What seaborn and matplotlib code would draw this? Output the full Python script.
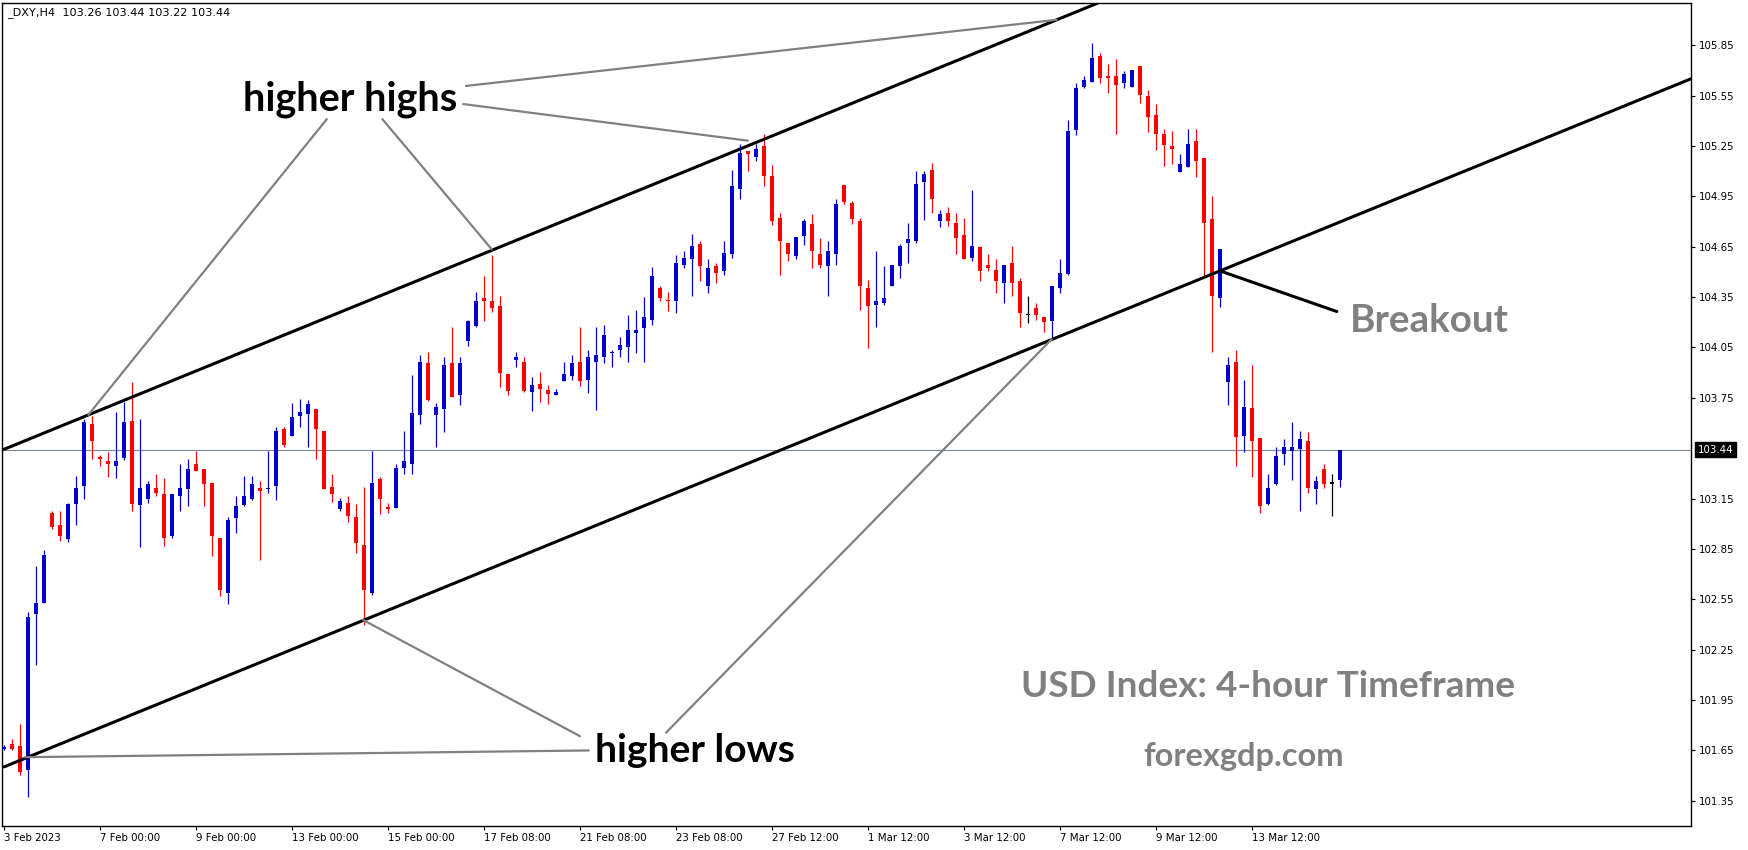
import numpy as np
import pandas as pd
import matplotlib
matplotlib.use("Agg")
import matplotlib.pyplot as plt
import matplotlib.transforms as mtransforms
import seaborn as sns

# ---------------- data (4-hour DXY candles) ----------------
opens = [101.660, 101.685, 101.675, 101.534, 102.464, 102.530, 103.063, 102.993, 102.908, 103.120,
         103.222, 103.594, 103.399, 103.375, 103.341, 103.391, 103.614, 103.114, 103.146, 103.214,
         103.176, 102.924, 103.162, 103.204, 103.355, 103.327, 103.242, 102.914, 102.590, 103.031,
         103.111, 103.150, 103.214, 103.204, 103.222, 103.564, 103.520, 103.643, 103.653, 103.683,
         103.554, 103.216, 103.085, 103.124, 103.037, 102.874, 102.590, 103.266, 103.097, 103.093,
         103.331, 103.355, 103.647, 103.959, 103.647, 103.681, 103.959, 103.765, 104.091, 104.180,
         104.345, 104.329, 104.299, 103.892, 103.975, 103.965, 103.782, 103.832, 103.797, 103.765,
         103.852, 103.882, 103.965, 103.858, 103.961, 103.991, 104.015, 104.035, 104.051, 104.136,
         104.164, 104.214, 104.405, 104.333, 104.329, 104.542, 104.574, 104.667, 104.415, 104.538,
         104.508, 104.604, 104.991, 105.218, 105.184, 105.248, 105.069, 104.820, 104.675, 104.594,
         104.711, 104.786, 104.607, 104.534, 104.605, 105.015, 104.908, 104.806, 104.405, 104.301,
         104.313, 104.419, 104.534, 104.671, 104.683, 105.035, 105.105, 104.802, 104.852, 104.792,
         104.717, 104.582, 104.647, 104.544, 104.514, 104.432, 104.556, 104.448, 104.244, 104.285,
         104.234, 104.210, 104.403, 104.488, 105.347, 105.602, 105.631, 105.784, 105.665, 105.665,
         105.627, 105.602, 105.725, 105.546, 105.437, 105.319, 105.248, 105.095, 105.124, 105.278,
         105.178, 104.816, 104.343, 103.842, 103.961, 103.520, 103.687, 103.508, 103.120, 103.238,
         103.415, 103.433, 103.442, 103.494, 103.206, 103.325, 103.242, 103.260]
highs = [101.680, 101.720, 101.804, 102.474, 102.749, 102.844, 103.073, 103.077, 103.124, 103.286,
         103.623, 103.643, 103.407, 103.429, 103.667, 103.723, 103.846, 103.623, 103.256, 103.295,
         103.274, 103.176, 103.355, 103.385, 103.435, 103.327, 103.242, 102.914, 103.037, 103.166,
         103.286, 103.286, 103.256, 103.435, 103.578, 103.574, 103.717, 103.743, 103.737, 103.683,
         103.554, 103.295, 103.156, 103.166, 103.117, 103.216, 103.435, 103.276, 103.126, 103.355,
         103.550, 103.888, 104.007, 104.021, 103.717, 103.991, 104.170, 103.991, 104.214, 104.379,
         104.478, 104.598, 104.359, 103.892, 104.021, 103.995, 103.876, 103.906, 103.828, 103.802,
         103.962, 104.007, 104.174, 104.037, 104.174, 104.186, 104.037, 104.111, 104.246, 104.276,
         104.349, 104.528, 104.419, 104.379, 104.602, 104.627, 104.727, 104.687, 104.578, 104.554,
         104.687, 105.105, 105.264, 105.218, 105.264, 105.319, 105.134, 104.852, 104.675, 104.705,
         104.816, 104.846, 104.703, 104.687, 104.936, 105.015, 104.920, 104.822, 104.452, 104.627,
         104.538, 104.542, 104.667, 104.794, 105.101, 105.099, 105.148, 104.866, 104.886, 104.850,
         104.820, 104.985, 104.657, 104.607, 104.578, 104.544, 104.657, 104.464, 104.359, 104.315,
         104.234, 104.419, 104.578, 105.407, 105.627, 105.665, 105.866, 105.806, 105.737, 105.767,
         105.695, 105.705, 105.725, 105.586, 105.498, 105.353, 105.337, 105.200, 105.353, 105.349,
         105.178, 104.951, 104.637, 103.991, 104.037, 103.858, 103.948, 103.508, 103.297, 103.458,
         103.506, 103.608, 103.554, 103.548, 103.286, 103.357, 103.296, 103.440]
lows = [101.650, 101.650, 101.502, 101.373, 102.156, 102.530, 102.971, 102.894, 102.892, 102.991,
        103.150, 103.385, 103.343, 103.281, 103.270, 103.381, 103.073, 102.864, 103.124, 103.162,
        102.870, 102.912, 103.073, 103.105, 103.311, 103.103, 102.810, 102.572, 102.524, 102.942,
        103.103, 103.144, 102.783, 103.180, 103.144, 103.454, 103.520, 103.574, 103.458, 103.383,
        103.206, 103.132, 103.073, 103.013, 102.824, 102.395, 102.574, 103.057, 103.063, 103.093,
        103.295, 103.299, 103.594, 103.733, 103.455, 103.544, 103.753, 103.705, 104.061, 104.170,
        104.210, 104.264, 103.812, 103.767, 103.932, 103.782, 103.673, 103.723, 103.711, 103.765,
        103.852, 103.858, 103.822, 103.780, 103.679, 103.955, 103.932, 103.991, 103.961, 104.015,
        103.961, 104.184, 104.325, 104.270, 104.254, 104.524, 104.355, 104.448, 104.373, 104.432,
        104.482, 104.580, 104.932, 105.101, 105.158, 105.009, 104.782, 104.480, 104.564, 104.576,
        104.663, 104.522, 104.524, 104.355, 104.540, 104.904, 104.784, 104.271, 104.047, 104.170,
        104.303, 104.415, 104.464, 104.552, 104.671, 104.812, 104.850, 104.770, 104.772, 104.606,
        104.574, 104.564, 104.444, 104.508, 104.373, 104.315, 104.355, 104.170, 104.194, 104.214,
        104.140, 104.101, 104.375, 104.480, 105.317, 105.598, 105.631, 105.625, 105.566, 105.321,
        105.598, 105.602, 105.506, 105.333, 105.228, 105.130, 105.140, 105.095, 105.124, 105.065,
        104.468, 104.021, 104.293, 103.709, 103.341, 103.429, 103.280, 103.061, 103.113, 103.232,
        103.351, 103.262, 103.073, 103.180, 103.115, 103.210, 103.043, 103.220]
closes = [101.670, 101.655, 101.522, 102.445, 102.526, 102.814, 102.983, 102.924, 103.118, 103.214,
          103.608, 103.490, 103.383, 103.353, 103.375, 103.608, 103.120, 103.214, 103.238, 103.180,
          102.912, 103.176, 103.214, 103.327, 103.311, 103.234, 102.924, 102.602, 103.021, 103.105,
          103.166, 103.238, 103.194, 103.214, 103.554, 103.470, 103.637, 103.667, 103.713, 103.564,
          103.206, 103.176, 103.136, 103.045, 102.882, 102.604, 103.242, 103.146, 103.087, 103.329,
          103.375, 103.657, 103.965, 103.739, 103.697, 103.947, 103.753, 103.959, 104.206, 104.329,
          104.329, 104.283, 103.900, 103.792, 103.991, 103.792, 103.828, 103.800, 103.771, 103.787,
          103.892, 103.959, 103.852, 103.991, 104.007, 104.126, 104.025, 104.067, 104.156, 104.156,
          104.234, 104.478, 104.343, 104.325, 104.554, 104.584, 104.657, 104.534, 104.524, 104.492,
          104.613, 105.009, 105.208, 105.200, 105.234, 105.069, 104.802, 104.683, 104.605, 104.705,
          104.806, 104.623, 104.540, 104.625, 104.906, 104.916, 104.816, 104.415, 104.295, 104.329,
          104.345, 104.542, 104.657, 104.699, 105.025, 105.085, 104.934, 104.846, 104.802, 104.701,
          104.574, 104.657, 104.504, 104.522, 104.448, 104.544, 104.432, 104.254, 104.244, 104.244,
          104.200, 104.419, 104.494, 105.337, 105.598, 105.645, 105.776, 105.655, 105.655, 105.612,
          105.677, 105.705, 105.556, 105.423, 105.321, 105.254, 105.230, 105.144, 105.264, 105.160,
          104.790, 104.355, 104.637, 103.948, 103.514, 103.697, 103.490, 103.103, 103.214, 103.405,
          103.458, 103.458, 103.506, 103.212, 103.254, 103.236, 103.242, 103.440]

x_tick_bars = [0, 12, 24, 36, 48, 60, 72, 84, 96, 108, 120, 132, 144, 156]
x_tick_labels = ["3 Feb 2023", "7 Feb 00:00", "9 Feb 00:00", "13 Feb 00:00", "15 Feb 00:00",
                 "17 Feb 08:00", "21 Feb 08:00", "23 Feb 08:00", "27 Feb 12:00", "1 Mar 12:00",
                 "3 Mar 12:00", "7 Mar 12:00", "9 Mar 12:00", "13 Mar 12:00"]
y_tick_values = [101.35, 101.65, 101.95, 102.25, 102.55, 102.85, 103.15,
                 103.75, 104.05, 104.35, 104.65, 104.95, 105.25, 105.55, 105.85]
y_tick_labels = ["101.35", "101.65", "101.95", "102.25", "102.55", "102.85", "103.15",
                 "103.75", "104.05", "104.35", "104.65", "104.95", "105.25", "105.55", "105.85"]
last_price = 103.44
header_text = "_DXY,H4  103.26 103.44 103.22 103.44"

# channel lines (bar index, price)
upper_channel_bars = [0, 211]
upper_channel_prices = [103.443, 107.546]
lower_channel_bars = [0, 211]
lower_channel_prices = [101.551, 105.653]
breakout_bars = [152.0, 166.6]
breakout_prices = [104.506, 104.264]

# annotation pointer lines (bar index, price)
pointer_lines = {
    "hh1": ([57.75, 131.6], [105.608, 106.002]),
    "hh2": ([57.4, 92.96], [105.500, 105.282]),
    "hh3": ([40.35, 10.54], [105.410, 103.648]),
    "hh4": ([47.3, 60.96], [105.410, 104.635]),
    "hl1": ([73.1, 2.625], [101.649, 101.609]),
    "hl2": ([72.0, 44.9], [101.734, 102.426]),
    "hl3": ([82.75, 130.96], [101.755, 104.099]),
}

# ---------------- figure ----------------
W, H = 1749, 850
sns.set_theme(style="white")
plt.rcParams["font.family"] = ["DejaVu Sans"]

fig = plt.figure(figsize=(W / 100, H / 100), dpi=100)
fig.patch.set_facecolor("white")
ax = fig.add_axes([2 / W, 1 - 826 / H, (1691 - 2) / W, (826 - 3) / H])
ax.set_facecolor("white")

df = pd.DataFrame({"o": opens, "h": highs, "l": lows, "c": closes})
df["bar"] = np.arange(len(df))
BLUE, RED = "#0000CD", "#FF0000"
colors = [BLUE if c > o else (RED if c < o else "black") for o, c in zip(df.o, df.c)]

# horizontal last-price line
ax.axhline(last_price, color="#778899", lw=0.8, zorder=1)

# wicks
ax.vlines(df.bar, df.l, df.h, colors=colors, lw=0.9, zorder=3)
# bodies
body_lo = np.minimum(df.o, df.c)
body_h = np.maximum(np.abs(df.c - df.o), 0.007)
ax.bar(df.bar, body_h, bottom=body_lo - np.where(np.abs(df.c - df.o) < 0.007, 0.0035, 0),
       width=0.62, color=colors, linewidth=0, zorder=4)

# channel lines
for bx, py in [(upper_channel_bars, upper_channel_prices),
               (lower_channel_bars, lower_channel_prices),
               (breakout_bars, breakout_prices)]:
    sns.lineplot(x=bx, y=py, ax=ax, color="black", linewidth=2.2, zorder=5, sort=False)

for key, (bx, py) in pointer_lines.items():
    sns.lineplot(x=bx, y=py, ax=ax, color="#808080", linewidth=1.6, zorder=5, sort=False)

ax.set_xlim(-0.25, 210.875)
ax.set_ylim(101.199, 106.102)
ax.set_xlabel("")
ax.set_ylabel("")

for s in ax.spines.values():
    s.set_visible(True)
    s.set_color("black")
    s.set_linewidth(1.0)

ax.yaxis.tick_right()
ax.set_yticks(y_tick_values, labels=y_tick_labels)
ax.set_xticks(x_tick_bars, labels=x_tick_labels)
ax.tick_params(axis="y", which="both", direction="out", length=3, width=0.8, pad=3,
               labelsize=7.4, colors="black", right=True, left=False)
ax.tick_params(axis="x", which="both", direction="out", length=3, width=0.8, pad=2,
               labelsize=7.4, colors="black", bottom=True)
for lbl in ax.get_xticklabels():
    lbl.set_ha("left")

# last price box on the right axis
trans = mtransforms.blended_transform_factory(ax.transAxes, ax.transData)
ax.text(1.0 + 7 / 1689, last_price, f"{last_price:.2f}", transform=trans, ha="left", va="center",
        fontsize=7.4, color="white", clip_on=False,
        bbox=dict(boxstyle="square,pad=0.25", facecolor="black", edgecolor="black"))

renderer = fig.canvas.get_renderer()


def fit_text(x_px, y_px, s, width_px, va="baseline", **kw):
    t = fig.text(x_px / W, 1 - y_px / H, s, fontsize=20, va=va, ha="left", **kw)
    w = t.get_window_extent(renderer=renderer).width
    t.set_fontsize(20 * width_px / w)
    return t


fit_text(7, 13, header_text, 223, va="center", color="black", family="DejaVu Sans")
big = dict(family="Lato", fontweight="bold")
fit_text(243, 111, "higher highs", 214, color="black", **big)
fit_text(595, 762, "higher lows", 200, color="black", **big)
fit_text(1350, 332, "Breakout", 159, color="#808080", **big)
fit_text(1021, 697, "USD Index: 4-hour Timeframe", 494, color="#808080", **big)
fit_text(1143, 766, "forexgdp.com", 201, color="#808080", **big)

fig.savefig("out.png", dpi=100, facecolor="white")
